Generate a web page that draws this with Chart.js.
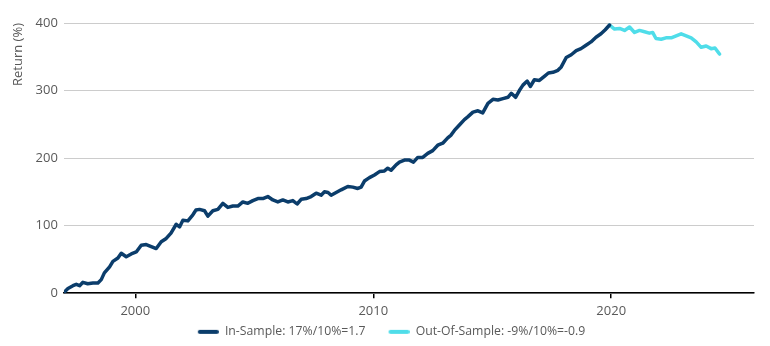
<!DOCTYPE html>
<html>
<head>
<meta charset="utf-8">
<script src="https://cdn.jsdelivr.net/npm/chart.js@4"></script>
<style>
  html, body { margin: 0; padding: 0; background: #fff; }
  #wrap { width: 770px; height: 346px; position: relative; }
</style>
</head>
<body>
<div id="wrap"><canvas id="chart"></canvas></div>
<script>
// ---- Data ----
const inYears = [
  1997.0, 1997.17, 1997.38, 1997.52, 1997.66, 1997.8, 1998.0, 1998.22, 1998.43, 1998.57,
  1998.7, 1998.92, 1999.06, 1999.27, 1999.41, 1999.62, 1999.83, 2000.04, 2000.25, 2000.46,
  2000.67, 2000.88, 2001.09, 2001.3, 2001.5, 2001.72, 2001.86, 2002.0, 2002.21, 2002.42,
  2002.55, 2002.7, 2002.91, 2003.05, 2003.26, 2003.47, 2003.68, 2003.89, 2004.1, 2004.31,
  2004.52, 2004.73, 2004.94, 2005.15, 2005.36, 2005.57, 2005.78, 2005.99, 2006.2, 2006.41,
  2006.62, 2006.8, 2006.97, 2007.18, 2007.39, 2007.6, 2007.81, 2007.95, 2008.1, 2008.23,
  2008.44, 2008.65, 2008.93, 2009.14, 2009.35, 2009.49, 2009.63, 2009.84, 2010.05, 2010.26,
  2010.47, 2010.61, 2010.75, 2010.96, 2011.1, 2011.31, 2011.52, 2011.69, 2011.87, 2012.08,
  2012.29, 2012.5, 2012.71, 2012.92, 2013.13, 2013.27, 2013.41, 2013.62, 2013.83, 2013.97,
  2014.19, 2014.4, 2014.6, 2014.82, 2015.03, 2015.24, 2015.45, 2015.66, 2015.8, 2015.98,
  2016.14, 2016.29, 2016.47, 2016.6, 2016.77, 2016.98, 2017.19, 2017.36, 2017.55, 2017.76,
  2017.9, 2018.11, 2018.32, 2018.53, 2018.73, 2018.94, 2019.15, 2019.36, 2019.57, 2019.75,
  2019.93
];
const inValues = [
  1, 7, 11, 13, 11, 16, 14, 15, 15, 20,
  30, 39, 47, 52, 59, 54, 58, 61, 71, 72,
  69, 66, 76, 81, 89, 102, 98, 108, 107, 116,
  123, 124, 122, 114, 122, 124, 133, 127, 129, 129,
  135, 133, 137, 140, 140, 143, 138, 135, 138, 135,
  137, 132, 139, 140, 143, 148, 145, 150, 149, 145,
  149, 153, 158, 157, 155, 157, 166, 171, 175, 180,
  181, 185, 182, 190, 194, 197, 197, 194, 201, 201,
  207, 211, 219, 222, 230, 234, 241, 249, 257, 261,
  268, 270, 267, 281, 287, 286, 288, 290, 296, 290,
  300, 308, 314, 306, 316, 315, 321, 326, 327, 330,
  335, 349, 353, 359, 362, 367, 372, 379, 384, 390,
  397
];
const outYears = [
  2019.93, 2020.14, 2020.35, 2020.56, 2020.77, 2020.98, 2021.19, 2021.4, 2021.6, 2021.74,
  2021.88, 2022.1, 2022.3, 2022.52, 2022.73, 2022.94, 2023.15, 2023.36, 2023.57, 2023.78,
  2023.99, 2024.2, 2024.36, 2024.55
];
const outValues = [
  397, 391, 392, 389, 394, 386, 389, 387, 385, 386,
  377, 376, 378, 378, 381, 384, 381, 378, 372, 364,
  366, 362, 363, 354
];
const seriesLabels = ['In-Sample: 17%/10%=1.7', 'Out-Of-Sample: -9%/10%=-0.9'];
const xTicks = [2000, 2010, 2020];
const yTicks = [0, 100, 200, 300, 400];

const toPoints = (xs, ys) => xs.map((x, i) => ({ x, y: ys[i] }));

const FONT = "'Open Sans', sans-serif";
const TEXT = '#595959';

// Legend swatch: short round-capped line, with blank space on its left
// so items sit further apart than labels.padding alone would allow
function legendSwatch(color) {
  const c = document.createElement('canvas');
  c.width = 42; c.height = 8;
  const g = c.getContext('2d');
  g.strokeStyle = color;
  g.lineWidth = 4;
  g.lineCap = 'round';
  g.beginPath(); g.moveTo(23, 4); g.lineTo(40, 4); g.stroke();
  return c;
}

const lineStyle = (color) => ({
  borderColor: color,
  backgroundColor: color,
  borderWidth: 3.5,
  pointRadius: 0,
  pointStyle: legendSwatch(color),
  tension: 0,
  borderJoinStyle: 'round',
  borderCapStyle: 'round',
  fill: false,
});

new Chart(document.getElementById('chart'), {
  type: 'line',
  data: {
    datasets: [
      { label: seriesLabels[0], data: toPoints(inYears, inValues), ...lineStyle('#0b3d6b') },
      { label: seriesLabels[1], data: toPoints(outYears, outValues), ...lineStyle('#4fdde9') },
    ],
  },
  options: {
    responsive: true,
    maintainAspectRatio: false,
    animation: false,
    layout: { padding: { top: 23, right: 16, left: 8, bottom: -2 } },
    scales: {
      x: {
        type: 'linear',
        min: 1997,
        max: 2026,
        afterBuildTicks: axis => { axis.ticks = xTicks.map(v => ({ value: v })); },
        ticks: {
          color: TEXT,
          font: { family: FONT, size: 13 },
          padding: 5,
          maxRotation: 0,
          callback: v => String(v),
        },
        grid: { drawOnChartArea: false, drawTicks: true, tickLength: 5, color: '#000', lineWidth: 1.5 },
        border: { display: true, color: '#000', width: 1.5 },
      },
      y: {
        min: 0,
        max: 400,
        afterBuildTicks: axis => { axis.ticks = yTicks.map(v => ({ value: v })); },
        ticks: {
          color: TEXT,
          font: { family: FONT, size: 13 },
          padding: 6,
        },
        title: {
          display: true,
          text: 'Return (%)',
          align: 'end',
          color: TEXT,
          font: { family: FONT, size: 13 },
          padding: { top: 2, bottom: 4 },
        },
        grid: { color: '#cccccc', lineWidth: 1, drawTicks: false },
        border: { display: false },
      },
    },
    plugins: {
      legend: {
        position: 'bottom',
        labels: {
          color: TEXT,
          font: { family: FONT, size: 12.25 },
          usePointStyle: true,
          pointStyleWidth: 42,
          boxHeight: 8,
          padding: 2,
        },
      },
      tooltip: { enabled: false },
    },
  },
});
</script>
</body>
</html>
